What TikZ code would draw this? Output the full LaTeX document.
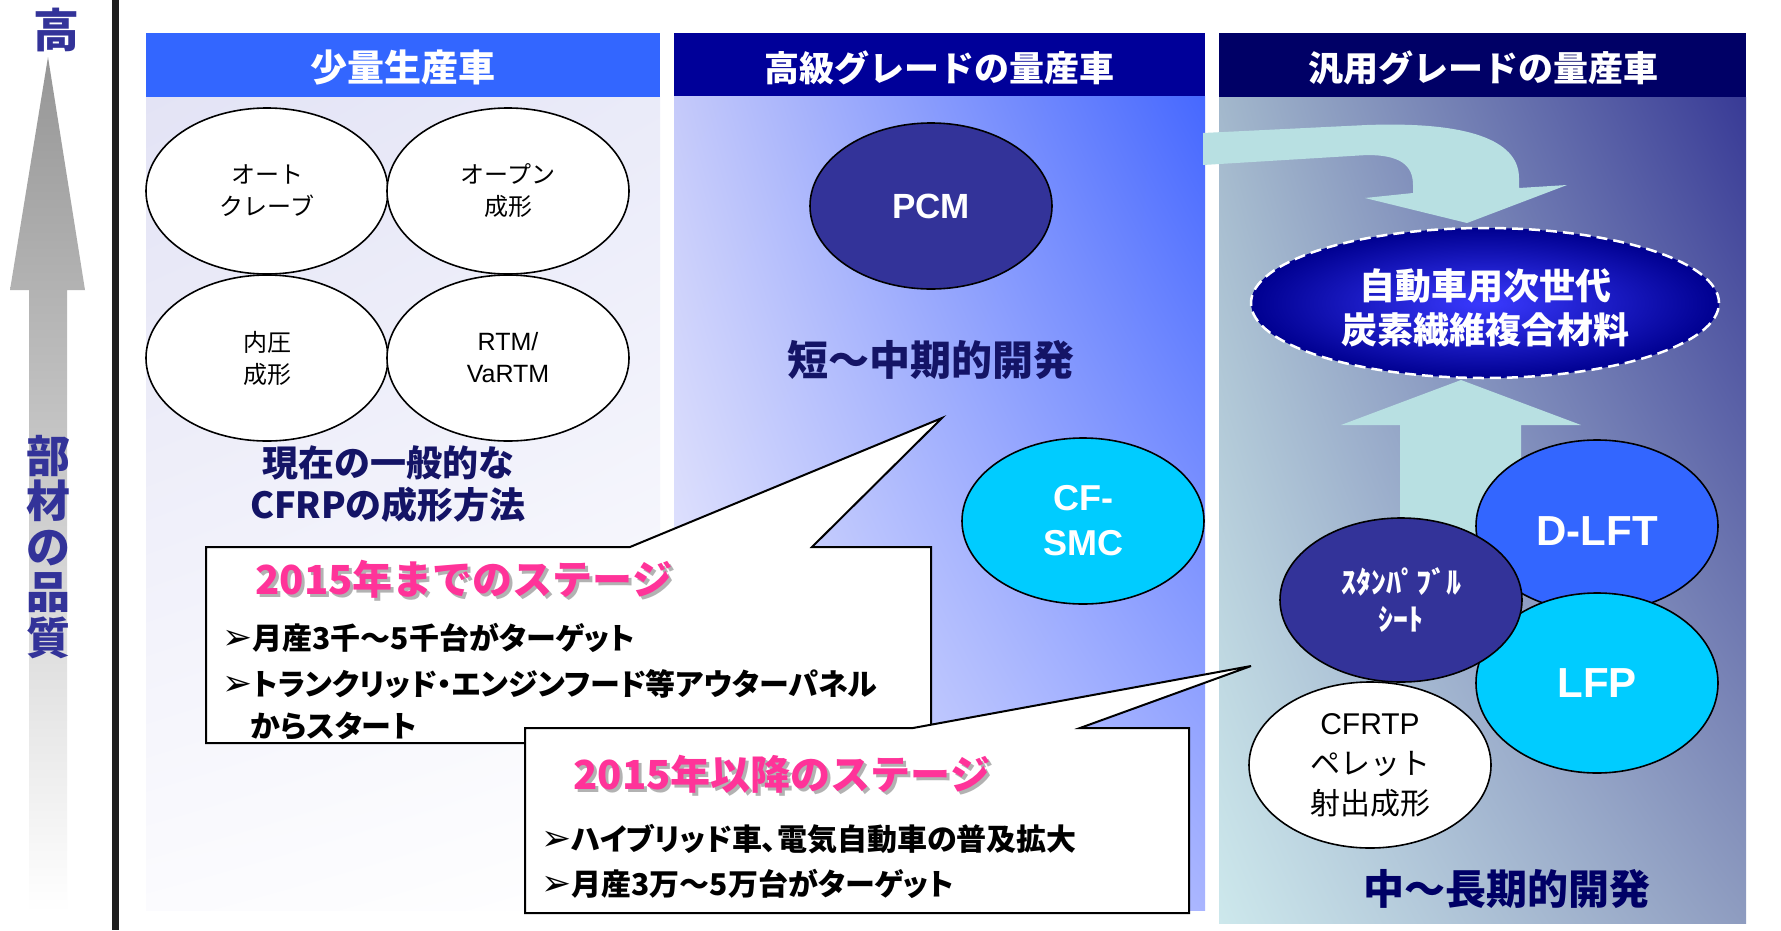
\documentclass[tikz,border=0pt]{standalone}
\usepackage{fontspec}
\setmainfont{Liberation Sans}
\newfontfamily\jp{Noto Sans CJK JP}
\newfontfamily\jpp[RawFeature=+palt]{Noto Sans CJK JP}
\newfontfamily\dingfont{DejaVu Sans}
\usetikzlibrary{shapes.geometric,shadings}
\definecolor{smallblue}{RGB}{51,102,255}
\definecolor{highnavy}{RGB}{0,0,153}
\definecolor{massnavy}{RGB}{0,0,102}
\definecolor{pcmindigo}{RGB}{51,51,153}
\definecolor{smccyan}{RGB}{0,204,255}
\definecolor{arrowcyan}{RGB}{184,224,226}
\definecolor{labelnavy}{RGB}{20,20,102}
\definecolor{stagepink}{RGB}{255,51,153}
\definecolor{shadowgray}{RGB}{178,178,178}
\definecolor{axisgray}{RGB}{150,150,150}
\definecolor{axisline}{RGB}{30,30,30}
\definecolor{coreblue}{RGB}{58,58,255}
\definecolor{rimblue}{RGB}{0,0,144}
% column gradients
\definecolor{oneUL}{RGB}{227,227,245}
\definecolor{oneUR}{RGB}{234,235,249}
\definecolor{oneLL}{RGB}{251,251,254}
\definecolor{oneLR}{RGB}{255,255,255}
\definecolor{twoUL}{RGB}{197,202,250}
\definecolor{twoUR}{RGB}{70,104,255}
\definecolor{twoLL}{RGB}{242,242,255}
\definecolor{twoLR}{RGB}{169,181,255}
\definecolor{threeUL}{RGB}{163,184,204}
\definecolor{threeUR}{RGB}{56,58,150}
\definecolor{threeLL}{RGB}{205,232,236}
\definecolor{threeLR}{RGB}{142,156,192}

\newcommand{\bul}{{\dingfont\fontsize{36}{36}\selectfont ➢}}

\begin{document}
\begin{tikzpicture}[
    x=1pt, y=-1pt,
    blob/.style={ellipse, draw=black, line width=1.6pt, inner sep=0pt,
        minimum width=242pt, minimum height=166pt, align=center},
    headtext/.style={text=white, font=\jp\bfseries\fontsize{35}{40}\selectfont},
    stagetext/.style={anchor=west, font=\jp\bfseries\fontsize{40}{46}\selectfont},
    pointtext/.style={anchor=west, font=\jpp\bfseries\fontsize{30}{34}\selectfont},
    calloutbox/.style={fill=white, draw=black, line width=2pt, line join=miter}
]

% Canvas
\fill[white] (0,0) rectangle (1781,930);
\useasboundingbox (0,0) rectangle (1781,930);

% 1. QUALITY AXIS
\shade[top color=axisgray, bottom color=white]
    (48,57) -- (85,290) -- (67,290) -- (67,912) -- (29,912) -- (29,290) -- (10,290) -- cycle;
\draw[axisline, line width=7pt] (115,0) -- (115,930);
\node[text=pcmindigo, font=\jp\bfseries\fontsize{46}{50}\selectfont] (high) at (56,30) {高};
\node[text=pcmindigo, font=\jp\bfseries\fontsize{44}{45.5}\selectfont, align=center] (quality) at (48,547) {部\\材\\の\\品\\質};

% 2. COLUMN BACKGROUNDS & HEADERS
% Small-lot vehicles
\shade[upper left=oneUL, upper right=oneUR, lower left=oneLL, lower right=oneLR] (146,97) rectangle (660,910);
\fill[smallblue] (146,33) rectangle (660,97);
\node[headtext, font=\jp\bfseries\fontsize{37}{40}\selectfont] (smallhead) at (403,68) {少量生産車};
% High-grade mass production
\shade[upper left=twoUL, upper right=twoUR, lower left=twoLL, lower right=twoLR] (674,96) rectangle (1205,910);
\fill[highnavy] (674,33) rectangle (1205,96);
\node[headtext] (highhead) at (939,68) {高級グレードの量産車};
% General-grade mass production
\shade[upper left=threeUL, upper right=threeUR, lower left=threeLL, lower right=threeLR] (1219,97) rectangle (1746,923);
\fill[massnavy] (1219,33) rectangle (1746,97);
\node[headtext] (masshead) at (1483,68) {汎用グレードの量産車};

% 3. FLOW ARROWS (light cyan)
% Bent arrow into the target material
\fill[arrowcyan] (1203,133) -- (1367,125) .. controls (1480,121) and (1519,145) .. (1519,178)
    -- (1519,188) -- (1567,185) -- (1467,223) -- (1365,198) -- (1413,193) -- (1413,185)
    .. controls (1413,165) and (1400,155) .. (1367,155) -- (1203,165) -- cycle;
% Upward arrow from the thermoplastic routes
\fill[arrowcyan] (1461,380) -- (1581,425) -- (1521,425) -- (1521,560) -- (1400,560) -- (1400,425) -- (1341,425) -- cycle;

% 4. PROCESS ELLIPSES
% Current methods
\node[blob, fill=white, font=\jp\fontsize{24}{32}\selectfont] (autoclave) at (267,191) {オート\\クレーブ};
\node[blob, fill=white, font=\jp\fontsize{24}{32}\selectfont] (openmold) at (508,191) {オープン\\成形};
\node[blob, fill=white, font=\jp\fontsize{24}{32}\selectfont] (pressure) at (267,358) {内圧\\成形};
\node[blob, fill=white, font=\fontsize{25}{32}\selectfont] (rtm) at (508,358) {RTM/\\VaRTM};
\node[text=labelnavy, font=\jp\bfseries\fontsize{36}{42}\selectfont, align=center] (current) at (388,484) {現在の一般的な\\CFRPの成形方法};

% Short to mid term
\node[blob, fill=pcmindigo, text=white, font=\bfseries\fontsize{35}{40}\selectfont] (pcm) at (931,206) {PCM};
\node[text=labelnavy, font=\jp\bfseries\fontsize{41}{46}\selectfont] (shortmid) at (931,360) {短～中期的開発};
\node[blob, fill=smccyan, text=white, font=\bfseries\fontsize{36}{45}\selectfont] (cfsmc) at (1083,521) {CF-\\SMC};

% Mid to long term
\node[ellipse, inner sep=0pt, minimum width=468pt, minimum height=150pt, inner color=coreblue, outer color=rimblue,
    draw=white, dash pattern=on 11pt off 6pt, line width=2.5pt] (nextgen) at (1485,303) {};
\node[text=white, align=center, font=\jp\bfseries\fontsize{36}{44}\selectfont] (nextgenlabel) at (1485,308) {自動車用次世代\\炭素繊維複合材料};
\node[blob, fill=smallblue, text=white, minimum height=172pt, text height=38pt, text depth=0pt,
    font=\bfseries\fontsize{42}{48}\selectfont] (dlft) at (1597,526) {D-LFT};
\node[blob, fill=smccyan, text=white, minimum height=180pt, font=\bfseries\fontsize{42}{48}\selectfont] (lfp) at (1597,683) {LFP};
\node[blob, fill=pcmindigo, text=white, minimum height=164pt, font=\jp\bfseries\fontsize{30}{37}\selectfont] (stampable) at (1401,600) {ｽﾀﾝﾊﾟﾌﾞﾙ\\ｼｰﾄ};
\node[blob, fill=white, font=\fontsize{30}{40}\selectfont] (cfrtp) at (1370,765) {CFRTP\\{\jp ペレット}\\{\jp 射出成形}};
\node[text=massnavy, font=\jp\bfseries\fontsize{41}{46}\selectfont] (midlong) at (1507,889) {中～長期的開発};

% 5. STAGE CALLOUTS
% Up to 2015
\draw[calloutbox] (206,547) -- (630,547) -- (942,418) -- (812,547) -- (931,547) -- (931,743) -- (206,743) -- cycle;
\node[stagetext, text=shadowgray] (stageoneshadow) at (255,582) {2015年までのステージ};
\node[stagetext, text=stagepink] (stageone) at (252,579) {2015年までのステージ};
\node[pointtext] (pointonea) at (219,638) {\bul 月産3千～5千台がターゲット};
\node[pointtext] (pointoneb) at (219,684) {\bul トランクリッド・エンジンフード等アウターパネル};
\node[pointtext] (pointonec) at (247,726) {からスタート};

% After 2015
\draw[calloutbox] (525,728) -- (913,728) -- (1251,666) -- (1080,728) -- (1189,728) -- (1189,913) -- (525,913) -- cycle;
\node[stagetext, text=shadowgray] (stagetwoshadow) at (573,777) {2015年以降のステージ};
\node[stagetext, text=stagepink] (stagetwo) at (570,774) {2015年以降のステージ};
\node[pointtext] (pointtwoa) at (538,839) {\bul ハイブリッド車、電気自動車の普及拡大};
\node[pointtext] (pointtwob) at (538,884) {\bul 月産3万～5万台がターゲット};

\end{tikzpicture}
\end{document}
